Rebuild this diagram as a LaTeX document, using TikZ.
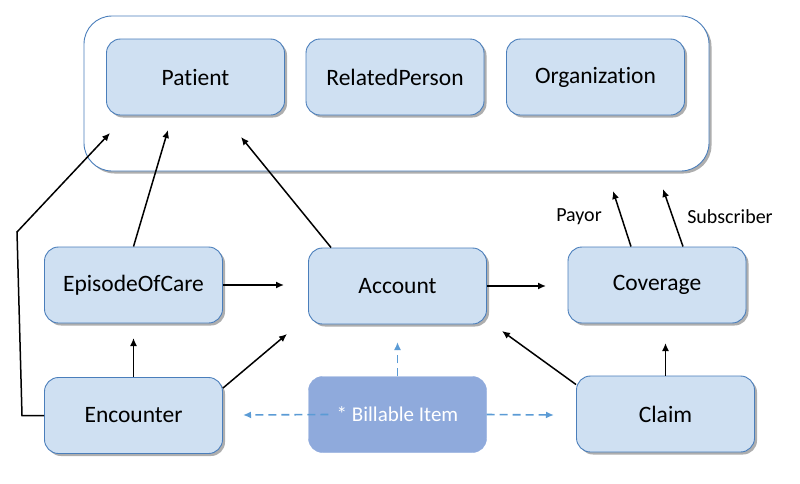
\documentclass[tikz,border=0pt]{standalone}
\usepackage{fontspec}
\setmainfont{Carlito}[Ligatures=NoCommon]
\usetikzlibrary{calc,positioning,shadows,arrows.meta}
\definecolor{boxfill}{HTML}{CFE0F2}
\definecolor{boxline}{HTML}{4A7EBB}
\definecolor{itemfill}{HTML}{8FAADC}
\definecolor{itemline}{HTML}{5B9BD5}

\begin{document}
\begin{tikzpicture}[x=1pt,y=-1pt,>={Latex[length=8pt,width=7pt]},
  res/.style={draw=boxline, fill=boxfill, rounded corners=14pt, line width=0.9pt,
    minimum width=178pt, minimum height=76pt, inner sep=0pt,
    font=\fontsize{23.5}{28}\selectfont,
    drop shadow={shadow xshift=2.5pt, shadow yshift=-2.5pt, fill=black!45, opacity=0.7}},
  link/.style={->, line width=1.5pt},
  ref/.style={->, line width=1.6pt, draw=itemline, dash pattern=on 8pt off 5pt},
  lbl/.style={font=\fontsize{20}{24}\selectfont}]
\useasboundingbox (0,0) rectangle (800,483);
\node[res, fill=white, minimum width=625pt, minimum height=155pt, rounded corners=28pt] (grp) at (396.5,93.5) {};
\node[res] (pat) at (195.5,77) {Patient};
\node[res] (rel) at (395,77) {RelatedPerson};
\node[res] (org) at (595.5,77) {Organization};
\node[res] (eoc) at (133.5,285) {EpisodeOfCare};
\node[res] (acc) at (397.5,286) {Account};
\node[res] (cov) at (657,285) {Coverage};
\node[res] (enc) at (133.5,415.5) {Encounter};
\node[res] (clm) at (665.5,414) {Claim};
\node[draw=itemfill, fill=itemfill, rounded corners=14pt, minimum width=178pt, minimum height=76pt,
  inner sep=0pt, text=white, font=\fontsize{21}{25}\selectfont] (bill) at (397.5,414.5) {* Billable Item};
\node[lbl] (payor) at (579,217) {Payor};
\node[lbl] (subs) at (730,217) {Subscriber};
\coordinate (grpEnc) at (110,133);
\coordinate (grpEoc) at (168,130);
\coordinate (grpAcc) at (241,137);
\coordinate (grpPay) at (613,191);
\coordinate (grpSub) at (663,189);
\coordinate (accEoc) at (284,285);
\coordinate (accEnc) at (287,334);
\coordinate (accClm) at (502,331);
\coordinate (accBill) at (397.5,342);
\coordinate (eocEnc) at (133.5,338);
\coordinate (covAcc) at (546,286);
\coordinate (covClm) at (665.5,343);
\coordinate (encBill) at (243,415);
\coordinate (clmBill) at (554,415);
\draw[link] (enc.west) -- (22,415.5) -- (17,232) -- (grpEnc);
\draw[link] (eoc.north) -- (grpEoc);
\draw[link] ($(acc.north west)+(23,0)$) -- (grpAcc);
\draw[link] (eoc.east) -- (accEoc);
\draw[link] (enc.north) -- (eocEnc);
\draw[link] ($(enc.north east)+(0,11)$) -- (accEnc);
\draw[link] (acc.east) -- (covAcc);
\draw[link] ($(cov.north)+(-26,0)$) -- (grpPay);
\draw[link] ($(cov.north)+(26,0)$) -- (grpSub);
\draw[link] (clm.north) -- (covClm);
\draw[link] ($(clm.north west)+(0,9)$) -- (accClm);
\draw[ref] (bill.north) -- (accBill);
\draw[ref] ($(bill.west)+(20,0)$) -- (encBill);
\draw[ref] (bill.east) -- (clmBill);
\end{tikzpicture}
\end{document}
